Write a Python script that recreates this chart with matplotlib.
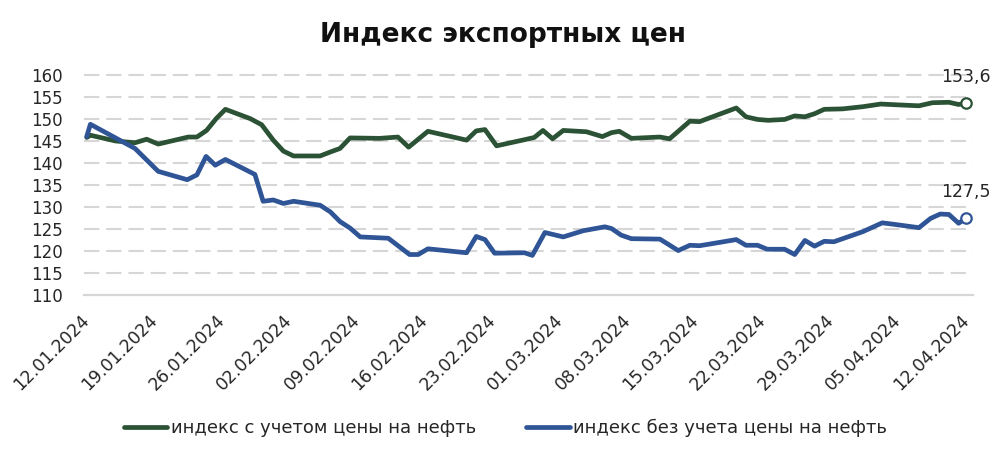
import matplotlib
matplotlib.use("Agg")
import matplotlib.pyplot as plt
import numpy as np

plt.rcParams['font.family'] = ['DejaVu Sans']
plt.rcParams['lines.scale_dashes'] = False

# ---- data (x = days since 12.01.2024) ----
green_days = [0.0, 0.4, 3.0, 5.0, 6.2, 7.4, 10.5, 11.4, 12.4, 13.4, 14.35, 16.9, 18.1,
              19.3, 20.35, 21.4, 24.15, 25.2, 26.2, 27.25, 30.3, 32.2, 33.3, 35.3,
              39.3, 40.3, 41.2, 42.4, 45.3, 46.3, 47.2, 48.2, 49.3, 51.7, 53.35,
              54.3, 55.1, 56.35, 59.3, 60.3, 62.4, 63.4, 65.6, 67.2, 68.2, 69.4,
              70.5, 72.2, 73.25, 74.3, 75.3, 76.3, 78.2, 80.3, 82.15, 84.05, 86.1,
              87.5, 89.2, 90.2, 91.0]
green_vals = [145.8, 146.3, 145.0, 144.6, 145.4, 144.3, 145.9, 145.9, 147.4, 150.1, 152.2, 150.1, 148.7,
              145.2, 142.7, 141.6, 141.6, 142.5, 143.3, 145.7, 145.6, 145.9, 143.6, 147.2,
              145.2, 147.3, 147.6, 143.9, 145.3, 145.8, 147.4, 145.5, 147.4, 147.1, 146.0,
              146.9, 147.2, 145.6, 145.9, 145.5, 149.5, 149.4, 151.2, 152.5, 150.5, 149.9,
              149.7, 149.9, 150.7, 150.5, 151.2, 152.2, 152.3, 152.8, 153.4, 153.2, 153.0,
              153.7, 153.8, 153.3, 153.6]

blue_days = [0.0, 0.38, 5.0, 7.4, 10.4, 11.4, 12.35, 13.3, 14.35, 17.4, 18.25, 19.3, 20.35,
             21.4, 24.15, 25.2, 26.2, 27.25, 28.3, 31.2, 33.4, 34.3, 35.3, 39.3, 40.3,
             41.2, 42.2, 45.3, 46.1, 47.4, 49.3, 51.35, 53.6, 54.3, 55.3, 56.35, 59.3,
             61.2, 62.4, 63.4, 65.6, 67.2, 68.2, 69.4, 70.4, 72.2, 73.25, 74.3, 75.3,
             76.3, 77.3, 80.3, 82.3, 83.4, 86.1, 87.3, 88.3, 89.2, 90.2, 91.0]
blue_vals = [146.0, 148.8, 143.3, 138.1, 136.2, 137.3, 141.5, 139.5, 140.8, 137.4, 131.3, 131.6, 130.8,
             131.3, 130.4, 128.9, 126.7, 125.2, 123.2, 122.9, 119.2, 119.2, 120.5, 119.6, 123.3,
             122.6, 119.5, 119.6, 119.0, 124.2, 123.2, 124.6, 125.5, 125.1, 123.6, 122.8, 122.7,
             120.1, 121.3, 121.2, 122.0, 122.6, 121.3, 121.3, 120.4, 120.4, 119.2, 122.4, 121.1,
             122.2, 122.1, 124.4, 126.4, 126.1, 125.3, 127.4, 128.4, 128.3, 126.3, 127.5]

tick_labels = ['12.01.2024', '19.01.2024', '26.01.2024', '02.02.2024', '09.02.2024',
               '16.02.2024', '23.02.2024', '01.03.2024', '08.03.2024', '15.03.2024',
               '22.03.2024', '29.03.2024', '05.04.2024', '12.04.2024']
tick_days = [7 * i for i in range(len(tick_labels))]
y_ticks = [110, 115, 120, 125, 130, 135, 140, 145, 150, 155, 160]

series_names = ['индекс с учетом цены на нефть', 'индекс без учета цены на нефть']
end_labels = ['153,6', '127,5']
title = 'Индекс экспортных цен'

GREEN = '#2b5235'
BLUE = '#2f5597'
GRID = '#d6d6d6'
TXT = '#262626'

W, H = 1005, 457
fig = plt.figure(figsize=(W / 100, H / 100), dpi=100)
ax = fig.add_axes([84 / W, 1 - 295 / H, (972.7 - 84) / W, (295 - 75) / H])

ax.set_xlim(-0.28, 91.66)
ax.set_ylim(110, 160)

for yv in y_ticks[1:]:
    ax.axhline(yv, color=GRID, lw=1.5, dashes=(11, 5), zorder=1, clip_on=False)
ax.axhline(110, color=GRID, lw=1.6, zorder=1, clip_on=False)

ax.plot(green_days, green_vals, color=GREEN, lw=3.4, solid_joinstyle='round',
        solid_capstyle='round', zorder=3, label=series_names[0])
ax.plot(blue_days, blue_vals, color=BLUE, lw=3.4, solid_joinstyle='round',
        solid_capstyle='round', zorder=3, label=series_names[1])

for d, v, c, t in [(green_days[-1], green_vals[-1], GREEN, end_labels[0]),
                   (blue_days[-1], blue_vals[-1], BLUE, end_labels[1])]:
    ax.plot([d], [v], marker='o', ms=7.5, mfc='white', mec=c, mew=1.6, zorder=4,
            clip_on=False)
    ax.annotate(t, (d, v), xytext=(0, 12.5), textcoords='offset points', ha='center',
                va='bottom', fontsize=12.5, color=TXT)

for s in ax.spines.values():
    s.set_visible(False)

ax.set_yticks(y_ticks)
ax.set_yticklabels([str(v) for v in y_ticks], fontsize=12, color=TXT)
ax.tick_params(axis='y', length=0, pad=15)

ax.set_xticks(tick_days)
ax.set_xticklabels(tick_labels, rotation=45, ha='right', va='center',
                   rotation_mode='anchor', fontsize=12.5, color=TXT)
ax.tick_params(axis='x', length=0, pad=16)

fig.text(0.5, 1 - 35 / H, title, ha='center', va='center', fontsize=19,
         fontweight='bold', color='#111111')

leg = fig.legend(loc='center', bbox_to_anchor=(0.503, 1 - 428 / H), ncol=2,
                 frameon=False, fontsize=13, handlelength=2.4, handletextpad=0.2,
                 columnspacing=2.8)
for t in leg.get_texts():
    t.set_color(TXT)

fig.savefig('out.png', dpi=100)
